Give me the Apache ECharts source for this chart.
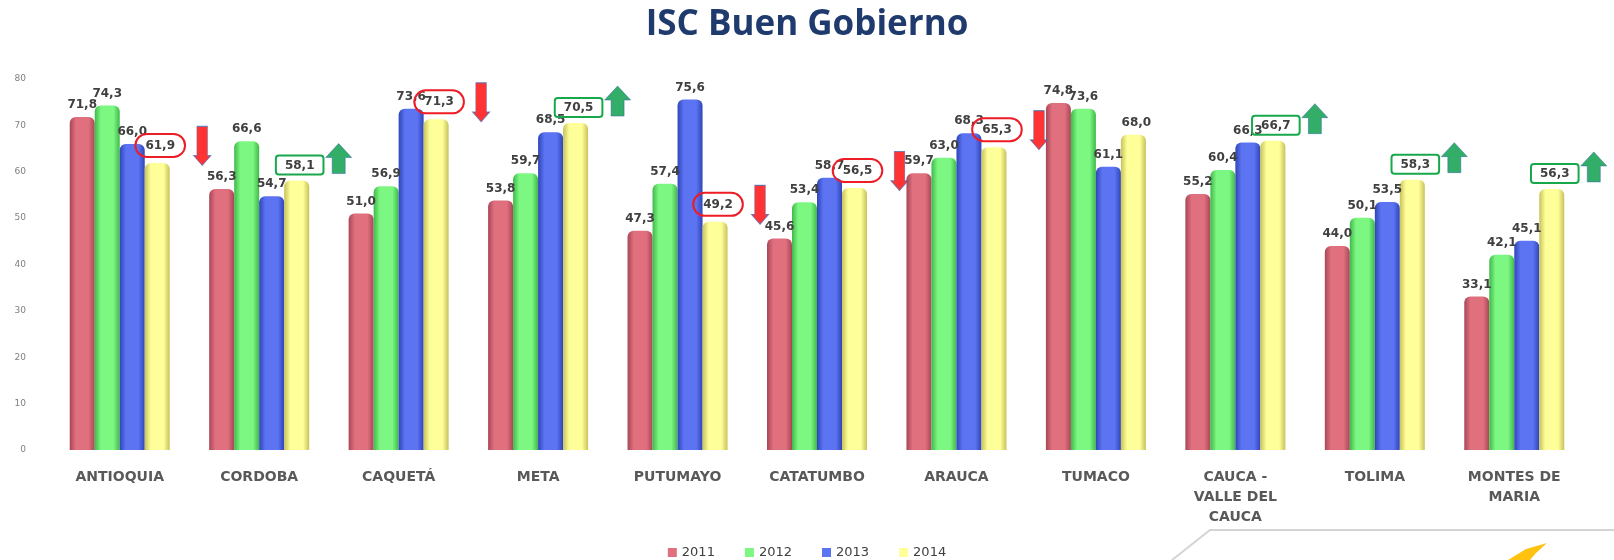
<!DOCTYPE html>
<html>
<head>
<meta charset="utf-8">
<script src="https://cdn.jsdelivr.net/npm/echarts@6/dist/echarts.min.js"></script>
<style>
html, body { margin: 0; padding: 0; background: #fff; }
#chart { width: 1614px; height: 560px; }
</style>
</head>
<body>
<div id="chart"></div>
<script>
// datos del grafico
const categories = ['ANTIOQUIA', 'CORDOBA', 'CAQUETÁ', 'META', 'PUTUMAYO', 'CATATUMBO', 'ARAUCA', 'TUMACO', 'CAUCA -\nVALLE DEL\nCAUCA', 'TOLIMA', 'MONTES DE\nMARIA'];
const years = ['2011', '2012', '2013', '2014'];
const values2011 = [71.8, 56.3, 51.0, 53.8, 47.3, 45.6, 59.7, 74.8, 55.2, 44.0, 33.1];
const values2012 = [74.3, 66.6, 56.9, 59.7, 57.4, 53.4, 63.0, 73.6, 60.4, 50.1, 42.1];
const values2013 = [66.0, 54.7, 73.6, 68.5, 75.6, 58.7, 68.3, 61.1, 66.3, 53.5, 45.1];
const values2014 = [61.9, 58.1, 71.3, 70.5, 49.2, 56.5, 65.3, 68.0, 66.7, 58.3, 56.3];
// tendencia 2014 respecto a 2013 (flecha)
const trend2014 = ['down', 'up', 'down', 'up', 'down', 'down', 'down', '', 'up', 'up', 'up'];
const yMin = 0, yMax = 80, yStep = 10;

const BAR_W = 25;
const colors = ['#E0707E', '#7CF882', '#5C73F2', '#FFFF99'];
const edges = ['#A84656', '#3FB84A', '#2F45B8', '#C8C25A'];
const FONT = 'DejaVu Sans';

function fmt(v) {
    return v.toFixed(1).replace('.', ',');
}

function barStyle(i) {
    return {
        color: new echarts.graphic.LinearGradient(0, 0, 1, 0, [
            { offset: 0, color: edges[i] },
            { offset: 0.25, color: colors[i] },
            { offset: 0.75, color: colors[i] },
            { offset: 1, color: edges[i] }
        ]),
        borderRadius: [6, 6, 0, 0]
    };
}

const valueLabel = {
    show: true,
    position: 'top',
    distance: 6,
    color: '#404040',
    fontFamily: FONT,
    fontWeight: 'bold',
    fontSize: 12,
    formatter: function (p) { return fmt(p.value); }
};

const series = [values2011, values2012, values2013].map(function (vals, i) {
    return {
        name: years[i],
        type: 'bar',
        barWidth: BAR_W,
        barGap: '0%',
        itemStyle: barStyle(i),
        label: valueLabel,
        data: vals
    };
});

series.push({
    name: years[3],
    type: 'bar',
    barWidth: BAR_W,
    barGap: '0%',
    itemStyle: barStyle(3),
    label: {
        show: true,
        position: 'top',
        distance: 3,
        offset: [3, -3],
        color: '#404040',
        fontFamily: FONT,
        fontWeight: 'bold',
        fontSize: 12,
        formatter: function (p) {
            let t = trend2014[p.dataIndex];
            return t ? '{' + t + '|' + fmt(p.value) + '}' : fmt(p.value);
        },
        rich: {
            down: {
                color: '#404040', fontFamily: FONT, fontWeight: 'bold', fontSize: 12,
                borderColor: '#EE1C25', borderWidth: 2, borderRadius: 14,
                padding: [6, 10, 5, 10]
            },
            up: {
                color: '#404040', fontFamily: FONT, fontWeight: 'bold', fontSize: 12,
                borderColor: '#18A84C', borderWidth: 2, borderRadius: 3,
                padding: [4, 9, 3, 9]
            }
        }
    },
    data: values2014
});

// flechas de tendencia
const downArrow = 'path://M3,0 L13,0 L13,30 L16,30 L8,40 L0,30 L3,30 Z';
const upArrow = 'path://M14,0 L28,14 L21,14 L21,30 L7,30 L7,14 L0,14 Z';
series.push({
    name: 'tendencia',
    type: 'scatter',
    z: 10,
    silent: true,
    data: values2014.map(function (v, i) {
        if (trend2014[i] === 'down') {
            return {
                value: v, symbol: downArrow, symbolSize: [17, 39],
                symbolOffset: [BAR_W * 1.5 + 45, -17],
                itemStyle: { color: '#FF0000', borderColor: '#5070B0', borderWidth: 0.8 }
            };
        } else if (trend2014[i] === 'up') {
            return {
                value: v, symbol: upArrow, symbolSize: [26, 30],
                symbolOffset: [BAR_W * 1.5 + 42, -22],
                itemStyle: { color: '#009A44', borderColor: '#2E5FA8', borderWidth: 0.6 }
            };
        }
        return '-';
    })
});

var myChart = echarts.init(document.getElementById('chart'));
var option = {
    animation: false,
    color: colors,
    title: {
        text: 'ISC Buen Gobierno',
        left: 'center',
        top: 3,
        textStyle: {
            color: '#1F3B6E',
            fontFamily: 'Open Sans',
            fontWeight: 'bold',
            fontSize: 35
        }
    },
    legend: {
        data: years.map(function (y, i) {
            return { name: y, itemStyle: { color: colors[i] } };
        }),
        left: 'center',
        top: 541,
        icon: 'rect',
        itemWidth: 9,
        itemHeight: 9,
        itemGap: 30,
        textStyle: { color: '#404040', fontFamily: FONT, fontSize: 13 }
    },
    grid: {
        left: 50,
        right: 30,
        top: 79,
        bottom: 110
    },
    xAxis: {
        type: 'category',
        data: categories,
        axisLine: { show: false },
        axisTick: { show: false },
        axisLabel: {
            margin: 17,
            color: '#595959',
            fontFamily: FONT,
            fontWeight: 'bold',
            fontSize: 14,
            lineHeight: 20,
            interval: 0
        }
    },
    yAxis: {
        type: 'value',
        min: yMin,
        max: yMax,
        interval: yStep,
        splitLine: { show: false },
        axisLine: { show: false },
        axisTick: { show: false },
        axisLabel: {
            margin: 24,
            color: '#7F7F7F',
            fontFamily: FONT,
            fontSize: 9
        }
    },
    graphic: [
        {
            type: 'polyline',
            shape: { points: [[1172, 560], [1210, 530], [1614, 530]] },
            style: { stroke: '#D4D4D4', lineWidth: 2, fill: null }
        },
        {
            type: 'polygon',
            shape: { points: [[1508, 560], [1526, 549], [1547, 543], [1536, 553], [1530, 560]] },
            style: { fill: '#FFC20E' }
        }
    ],
    series: series
};
myChart.setOption(option);
</script>
</body>
</html>
